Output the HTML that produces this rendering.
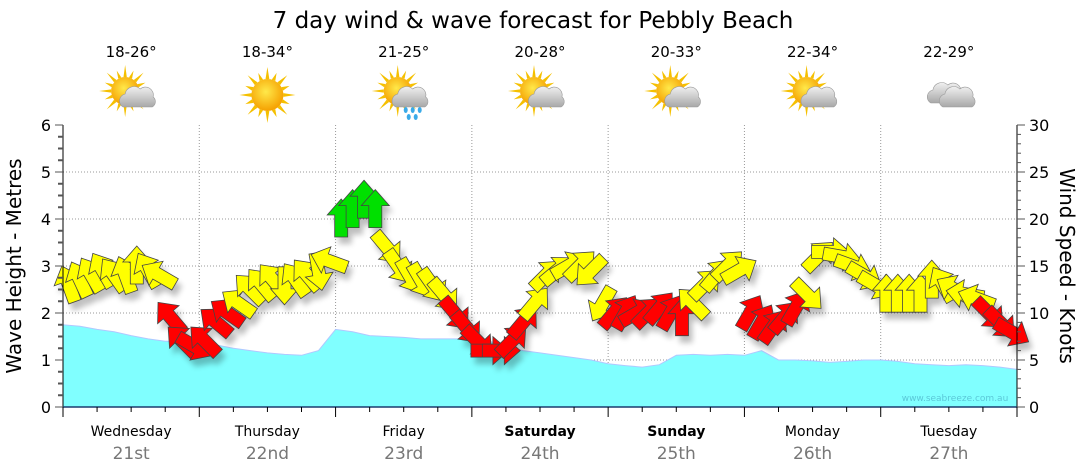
<!DOCTYPE html>
<html><head><meta charset="utf-8"><style>
body{margin:0;background:#fff;font-family:"DejaVu Sans","Liberation Sans",sans-serif;}
svg{display:block}
</style></head><body>
<svg id="c" width="1080" height="475" xmlns="http://www.w3.org/2000/svg" font-family="DejaVu Sans, Liberation Sans, sans-serif">
<defs>
<filter id="sh" x="-50%" y="-50%" width="200%" height="200%"><feGaussianBlur stdDeviation="3"/></filter>
<radialGradient id="sun" cx="45%" cy="40%" r="60%"><stop offset="0" stop-color="#ffe94a"/><stop offset="1" stop-color="#f5a000"/></radialGradient>
<linearGradient id="cloud" x1="0" y1="0" x2="0" y2="1"><stop offset="0" stop-color="#f0f0f0"/><stop offset="1" stop-color="#a8a8a8"/></linearGradient>
</defs>
<text x="533" y="28" font-size="23" text-anchor="middle" fill="#000">7 day wind &amp; wave forecast for Pebbly Beach</text>
<g id="grid"></g>
<g id="wave"></g>
<g id="shadows" filter="url(#sh)" opacity="0.25"></g>
<g id="arrows"></g>
<g id="axes"></g>
<g id="icons"></g>
<text x="955" y="401" font-size="9" fill="#5bc8d8" text-anchor="middle">www.seabreeze.com.au</text>
<text transform="translate(21,266) rotate(-90)" font-size="20" text-anchor="middle">Wave Height - Metres</text>
<text transform="translate(1060,266) rotate(90)" font-size="20" text-anchor="middle">Wind Speed - Knots</text>
</svg>
<script>
const days=["Wednesday","Thursday","Friday","Saturday","Sunday","Monday","Tuesday"];
const dates=["21st","22nd","23rd","24th","25th","26th","27th"];
const bold=[false,false,false,true,true,false,false];
const temps=["18-26°","18-34°","21-25°","20-28°","20-33°","22-34°","22-29°"];
const icons=["partly","sun","rain","partly","partly","partly","cloud"];
const waveTicks=[0,1,2,3,4,5,6];
const windTicks=[0,5,10,15,20,25,30];
const waveHeights=[1.75,1.72,1.65,1.6,1.52,1.45,1.4,1.4,1.38,1.32,1.25,1.2,1.15,1.12,1.1,1.2,1.65,1.6,1.52,1.5,1.48,1.45,1.45,1.45,1.45,1.4,1.3,1.2,1.15,1.1,1.05,1.0,0.92,0.88,0.85,0.9,1.1,1.12,1.1,1.12,1.1,1.2,1.0,1.0,0.98,0.95,0.97,1.0,1.0,0.97,0.92,0.9,0.88,0.9,0.88,0.85,0.8];
const windSpeeds=[13,13.5,14,14.5,14,14,15,14.5,14,9.5,7,6.5,
7,9,10,11,12.5,13,13.5,13,13.5,14,14.5,15.5,
20,21,22,21,17,15,14,13.5,13,12,10,8.5,
7,6,6,7,9,11,14,14.5,15,15,14.5,11,
10,10,10,10,10.5,10,9.5,11,13,14,15,14.5,
10,9,8.5,9.5,10.5,12,16,16.5,16,15,14,13,
12,12,12,12,13.5,13,12.5,12,11.5,10,9,8];
const windDirs=[-20,-25,-30,-30,-35,-20,0,-30,-60,-40,-45,120,
-45,-50,-55,-55,-45,-40,-40,180,-35,-40,170,-70,
0,0,0,0,140,145,150,150,145,140,140,140,
135,90,90,45,40,40,45,50,60,45,-135,-150,
40,30,60,45,40,30,0,-45,45,40,45,60,
30,30,35,40,30,135,45,90,100,110,120,120,
0,0,0,0,0,-30,-60,-80,-70,135,135,120];
const NS="http://www.w3.org/2000/svg";
const X0=63,X1=1017,Y0=407,YT=125;
const dayW=(X1-X0)/7;
const xT=t=>X0+t*dayW;
const yW=v=>Y0-v*(Y0-YT)/6;
const yK=v=>Y0-v*(Y0-YT)/30;
function el(tag,attrs,parent,text){const e=document.createElementNS(NS,tag);for(const k in attrs)e.setAttribute(k,attrs[k]);if(text!==undefined)e.textContent=text;parent.appendChild(e);return e;}
const grid=document.getElementById('grid'),axes=document.getElementById('axes'),wave=document.getElementById('wave'),arrows=document.getElementById('arrows'),shadows=document.getElementById('shadows'),ic=document.getElementById('icons');
for(const v of waveTicks){if(v>0&&v<6){const g=el('line',{x1:X0,x2:X1,y1:yW(v),y2:yW(v),stroke:'#999','stroke-dasharray':'1,2'},grid);}}
for(let d=1;d<7;d++){const g=el('line',{x1:xT(d),x2:xT(d),y1:YT,y2:Y0,stroke:'#999','stroke-dasharray':'1,2'},grid);}
let p=`M${X0},${Y0}`;
waveHeights.forEach((h,i)=>{p+=` L${xT(i/8).toFixed(1)},${yW(h).toFixed(1)}`;});
p+=` L${X1},${Y0} Z`;
const wa=el('path',{d:p,fill:'#80ffff',stroke:'#b0c8ff','stroke-width':1},wave);


const shape="M0,-20 L14,-4 L6.5,-4 L6.5,18 L-6.5,18 L-6.5,-4 L-14,-4 Z";
windSpeeds.forEach((s,i)=>{
 const x=xT((i+0.5)/12),y=yK(s);
 const col=s>=19?'#00e000':(s>=11?'#ffff00':'#ff0000');
 el('path',{d:shape,fill:'#000',transform:`translate(${x+4},${y+7}) rotate(${windDirs[i]})`},shadows);
 const a=el('path',{d:shape,fill:col,stroke:'#444','stroke-width':0.8,transform:`translate(${x.toFixed(1)},${y.toFixed(1)}) rotate(${windDirs[i]})`},arrows);
 
 
});
el('line',{x1:X0,x2:X0,y1:YT,y2:Y0,stroke:'#000'},axes);
el('line',{x1:X1,x2:X1,y1:YT,y2:Y0,stroke:'#000'},axes);
el('line',{x1:X0,x2:X1,y1:Y0,y2:Y0,stroke:'#1a3c6e','stroke-width':1.5},axes);
for(let v=0;v<=6.001;v+=0.25){const y=yW(v);el('line',{x1:X0-(Number.isInteger(v)?8:5),x2:X0,y1:y,y2:y,stroke:'#555','stroke-width':Number.isInteger(v)?1:2},axes);}
for(const v of waveTicks){const t=el('text',{x:X0-12,y:yW(v)+6,'font-size':16,'text-anchor':'end'},axes,String(v));}
for(let v=0;v<=30;v++){const y=yK(v);el('line',{x1:X1,x2:X1+(v%5==0?8:4),y1:y,y2:y,stroke:'#555'},axes);}
for(const v of windTicks){const t=el('text',{x:X1+12,y:yK(v)+6,'font-size':16},axes,String(v));}
for(let q=0;q<=28;q++){const x=xT(q/4);el('line',{x1:x,x2:x,y1:Y0,y2:Y0+(q%4==0?10:5),stroke:'#000'},axes);}
days.forEach((d,i)=>{const cx=xT(i+0.5);
 const t=el('text',{x:cx,y:436,'font-size':14,'text-anchor':'middle','font-weight':bold[i]?'bold':'normal'},axes,d);
 const t2=el('text',{x:cx,y:459,'font-size':17,'text-anchor':'middle',fill:'#777'},axes,dates[i]);
 const t3=el('text',{x:cx,y:57,'font-size':15,'text-anchor':'middle'},ic,temps[i]);
 const g=el('g',{transform:`translate(${cx},95)`},ic);
 const k=icons[i];
 if(k!=='cloud'){const sx=k==='sun'?0:-6,sy=k==='sun'?0:-4,r=k==='sun'?16:14;
  for(let a=0;a<16;a++){const ang=a*Math.PI/8,L=a%2?r+8:r+12;el('polygon',{points:`${sx+Math.cos(ang-0.12)*r},${sy+Math.sin(ang-0.12)*r} ${sx+Math.cos(ang)*L},${sy+Math.sin(ang)*L} ${sx+Math.cos(ang+0.12)*r},${sy+Math.sin(ang+0.12)*r}`,fill:'#f5c000'},g);}
  el('circle',{cx:sx,cy:sy,r:r,fill:'url(#sun)'},g);}
 if(k!=='sun'){const ox=k==='cloud'?-4:6,oy=k==='cloud'?-2:2;
  el('path',{d:`M${ox-14},${oy+10} a7,7 0 0 1 2,-13 a9,9 0 0 1 15,-5 a8,8 0 0 1 13,8 a6,6 0 0 1 -1,10 Z`,fill:'url(#cloud)',stroke:'#999','stroke-width':0.6},g);
  if(k==='cloud')el('path',{d:`M-6,12 a7,7 0 0 1 2,-13 a9,9 0 0 1 15,-5 a8,8 0 0 1 13,8 a6,6 0 0 1 -1,10 Z`,fill:'url(#cloud)',stroke:'#999','stroke-width':0.6},g);
  if(k==='rain'){[[2,15],[9,15],[16,15],[5,22],[12,22]].forEach(([a,b])=>el('ellipse',{cx:a,cy:b,rx:2,ry:3,fill:'#3aaae8'},g));}}
});
</script>
</body></html>
